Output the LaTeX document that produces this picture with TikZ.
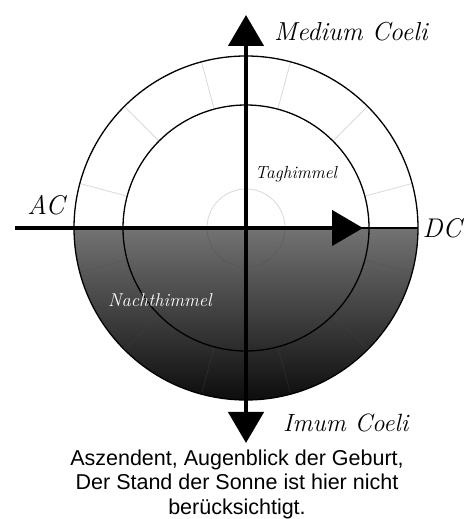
\documentclass[tikz,border=0pt]{standalone}
\usepackage{fontspec}
\setsansfont{Liberation Sans}
\usetikzlibrary{arrows.meta}
\tikzset{
  ring/.style={draw=black, line width=1.3pt},
  sector/.style={draw=black!15, line width=0.8pt},
  sectordark/.style={draw=black!70, line width=0.6pt, opacity=0.35},
  axis/.style={line width=4.5pt, -{Triangle[length=31pt,width=35pt]}},
  vaxis/.style={line width=4.5pt, {Triangle[length=31pt,width=35pt]}-{Triangle[length=31pt,width=35pt]}},
  hand/.style={font=\itshape, inner sep=0pt},
  caption/.style={font=\sffamily\fontsize{21.5}{24.5}\selectfont, align=center, inner sep=0pt}
}
\begin{document}
\begin{tikzpicture}[x=1pt,y=1pt]
\useasboundingbox (0,0) rectangle (469,519);
\coordinate (O) at (246,291);
% lower half shaded
\shade[top color=black!55, bottom color=black!95] (O) ++(-172,0) arc (180:360:172) -- cycle;
% sector lines upper half
\foreach \a in {15,45,75,105,135,165} {
  \draw[sector] (O) ++(\a:123) -- ++(\a:49);
}
\foreach \a in {195,225,255,285,315,345} {
  \draw[sectordark] (O) ++(\a:123) -- ++(\a:49);
}
% small centre circle
\draw[sector] (O) ++(39,0) arc (0:180:39);
\draw[sectordark] (O) ++(-39,0) arc (180:360:39);
% rings
\draw[ring] (O) circle (172);
\draw[ring] (O) circle (123);
\draw[ring] (O) ++(-172,0) -- ++(344,0);
% axes
\coordinate (acend) at (15,291);
\coordinate (dctip) at (363,291);
\coordinate (mctip) at (246,504);
\coordinate (ictip) at (246,76);
\draw[axis] (acend) -- (dctip);
\draw[vaxis] (ictip) -- (mctip);
% labels
\node[hand, anchor=west, font=\itshape\fontsize{26}{26}\selectfont] (mc) at (274,487) {Medium Coeli};
\node[hand, font=\itshape\fontsize{27}{27}\selectfont] (ac) at (46,314) {AC};
\node[hand, font=\itshape\fontsize{27}{27}\selectfont] (dc) at (442,291) {DC};
\node[hand, anchor=west, font=\itshape\fontsize{17.5}{17.5}\selectfont] (tag) at (255,345) {Taghimmel};
\node[hand, anchor=west, text=white, font=\itshape\fontsize{18.5}{18.5}\selectfont] (nacht) at (108,219) {Nachthimmel};
\node[hand, anchor=west, font=\itshape\fontsize{25}{25}\selectfont] (ic) at (283,96) {Imum Coeli};
\node[caption] (cap) at (237,35) {Aszendent, Augenblick der Geburt,\\Der Stand der Sonne ist hier nicht\\berücksichtigt.};
\end{tikzpicture}
\end{document}
